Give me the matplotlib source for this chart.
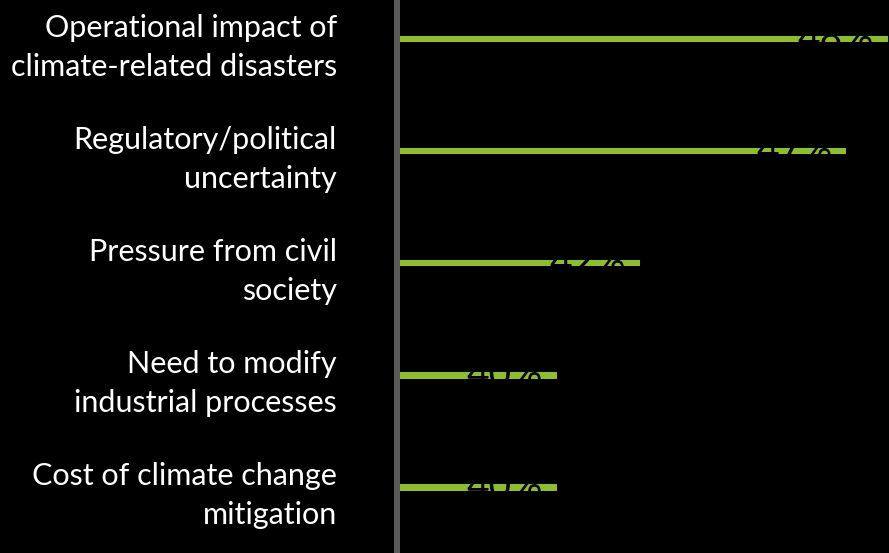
import numpy as np
import matplotlib.pyplot as plt

categories = ["Operational impact of\nclimate-related disasters",
              "Regulatory/political\nuncertainty",
              "Pressure from civil\nsociety",
              "Need to modify\nindustrial processes",
              "Cost of climate change\nmitigation"]
values = [48, 47, 42, 40, 40]
value_labels = ["48%", "47%", "42%", "40%", "40%"]

plt.rcParams['font.family'] = ['Lato', 'DejaVu Sans']

fig = plt.figure(figsize=(8.89, 5.53), dpi=100, facecolor='black')
ax = fig.add_axes([396.5 / 889, 0, 1 - 396.5 / 889, 1])
ax.set_facecolor('black')

y = np.arange(len(categories))
ax.barh(y, values, height=0.058, color='#8cbf2a', zorder=2)

for yi, v, lab in zip(y, values, value_labels):
    ax.annotate(lab, (v, yi), xytext=(-14, 0), textcoords='offset pixels',
                ha='right', va='center', color='black', fontsize=28, zorder=3)

ax.set_xlim(36.12, 48.03)
ax.set_ylim(4.585, -0.348)

ax.set_yticks(y)
ax.set_yticklabels(categories, fontsize=22, color='white', ha='right',
                   linespacing=1.48)
ax.tick_params(axis='y', length=0, pad=43)
ax.set_xticks([])

for s in ['top', 'right', 'bottom']:
    ax.spines[s].set_visible(False)
ax.spines['left'].set_color('#595959')
ax.spines['left'].set_linewidth(4.3)

fig.savefig('out.png', dpi=100, facecolor='black')
